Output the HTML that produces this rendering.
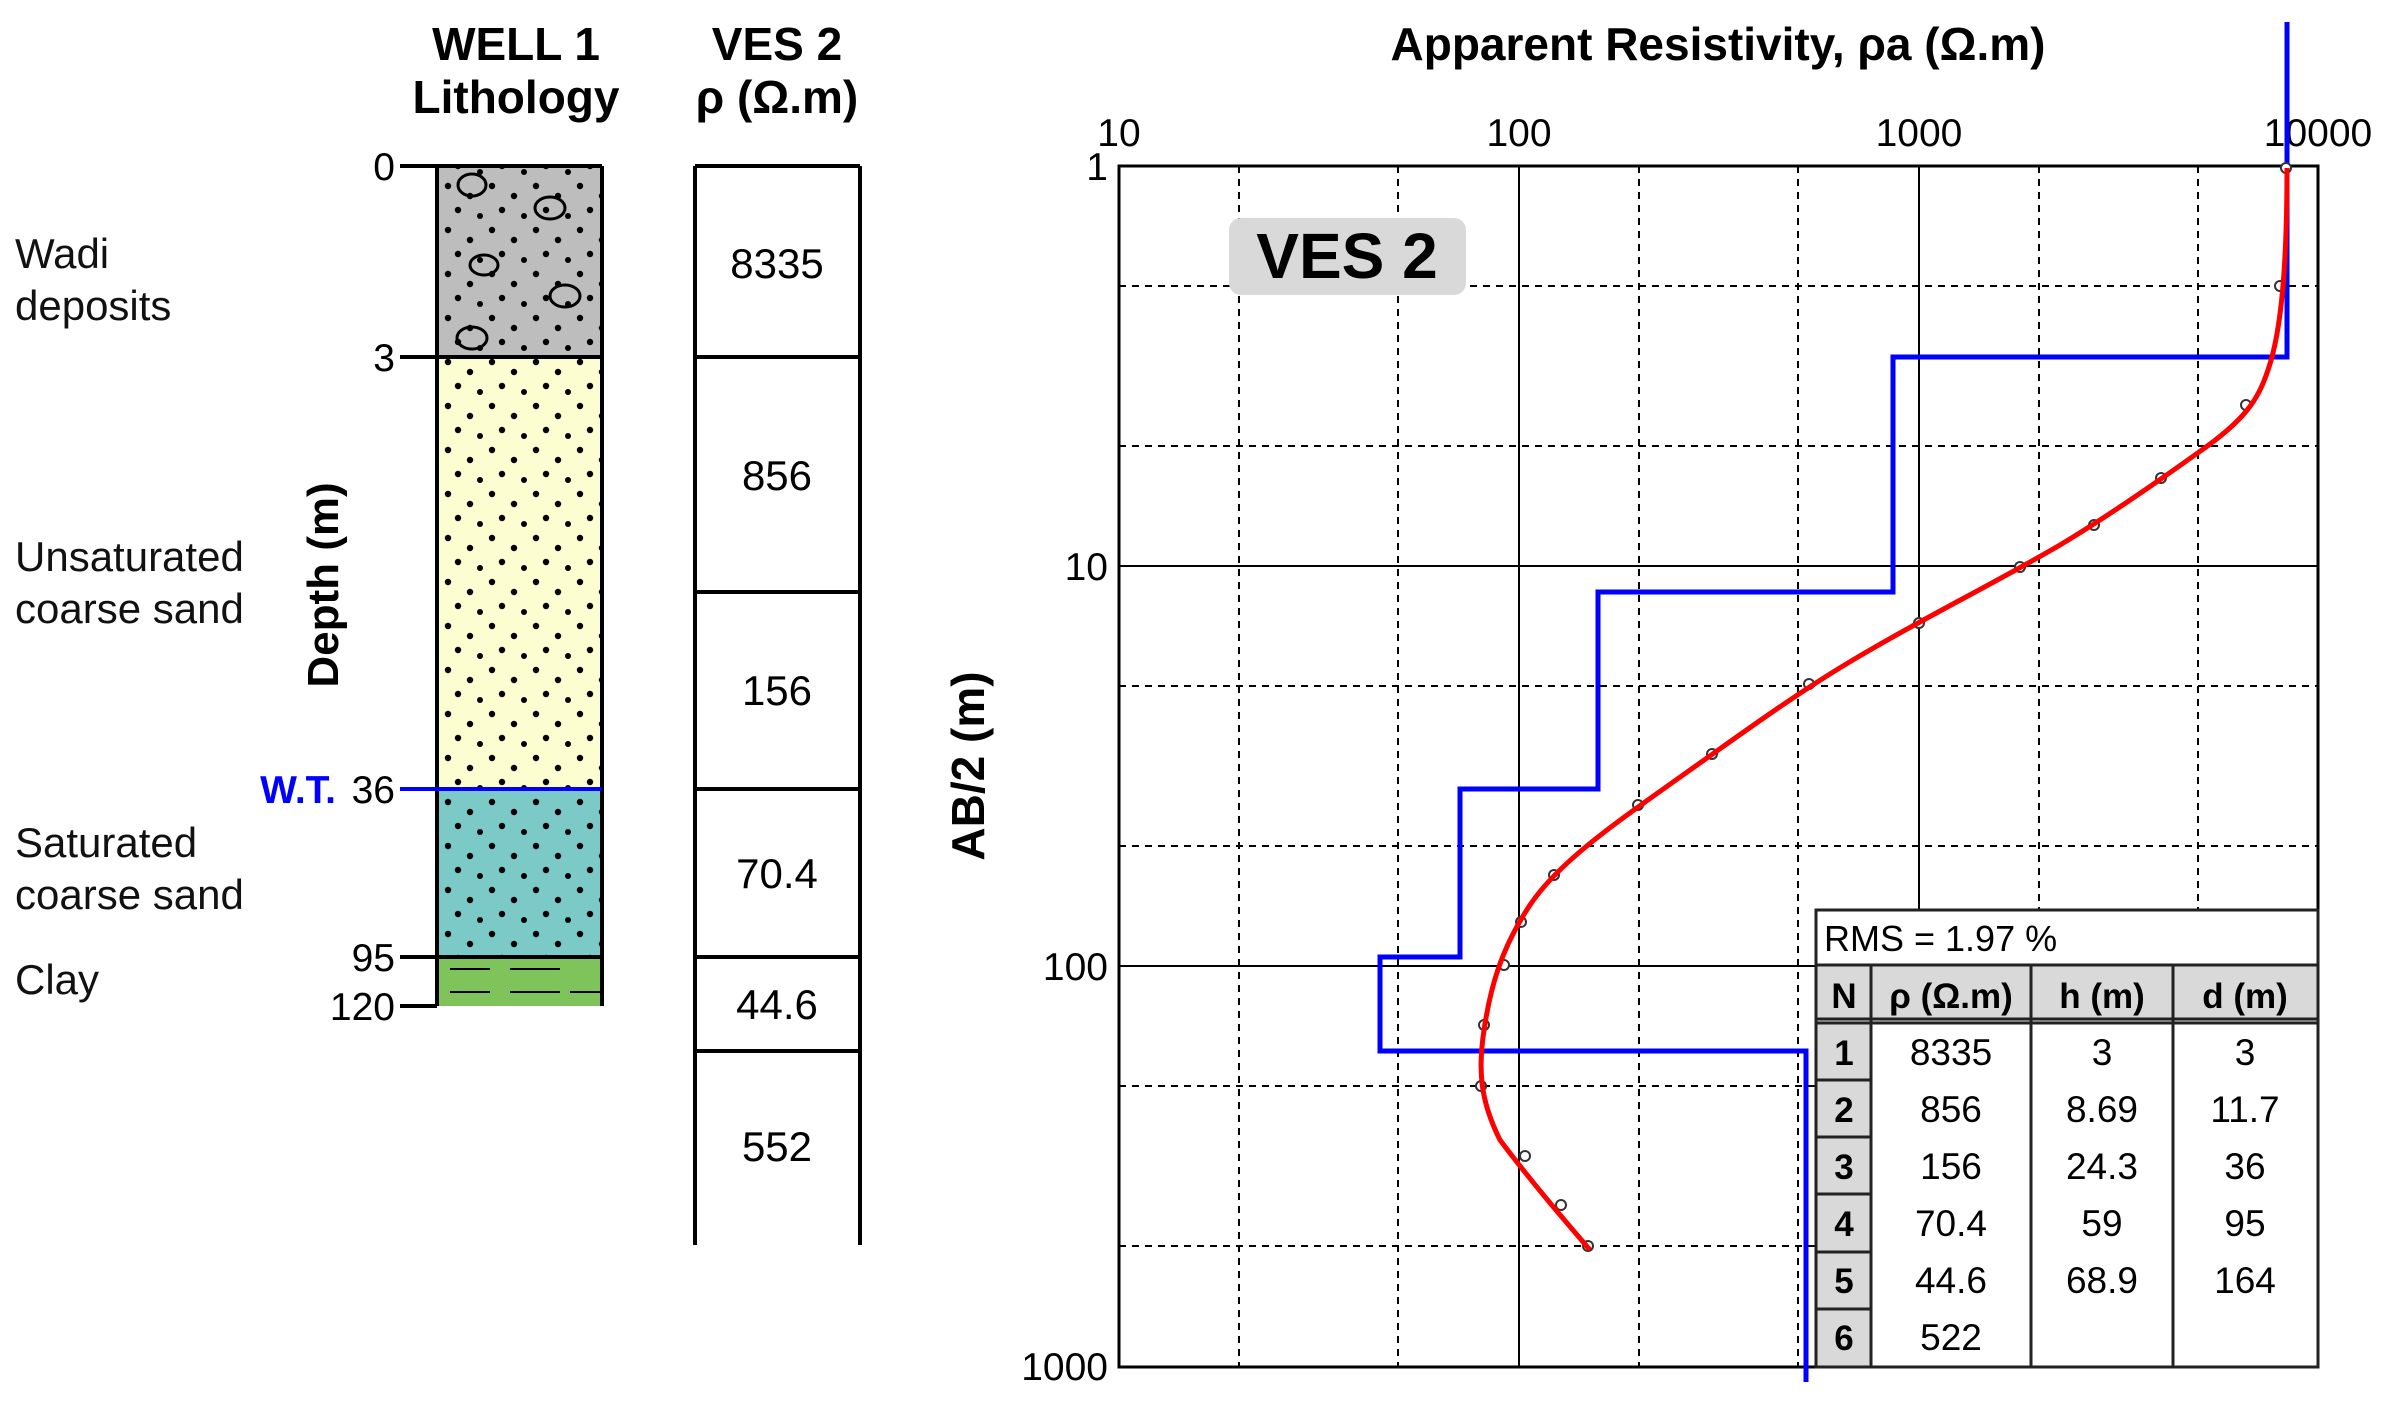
<!DOCTYPE html>
<html><head><meta charset="utf-8"><style>
html,body{margin:0;padding:0;background:#fff;}
svg{display:block;}
text{font-family:"Liberation Sans",sans-serif;}
</style></head><body>
<svg width="2394" height="1404" viewBox="0 0 2394 1404" xmlns="http://www.w3.org/2000/svg">
<defs>
<pattern id="dots" width="44" height="44" patternUnits="userSpaceOnUse">
<circle cx="8" cy="10" r="3.2" fill="#000"/><circle cx="30" cy="20" r="3.2" fill="#000"/><circle cx="18" cy="34" r="3.2" fill="#000"/><circle cx="40" cy="40" r="3" fill="#000"/>
</pattern>
</defs>
<text x="516" y="60" font-size="46" font-weight="bold" text-anchor="middle">WELL 1</text>
<text x="516" y="113" font-size="46" font-weight="bold" text-anchor="middle">Lithology</text>
<text x="777" y="60" font-size="46" font-weight="bold" text-anchor="middle">VES 2</text>
<text x="777" y="113" font-size="46" font-weight="bold" text-anchor="middle">ρ (Ω.m)</text>
<g font-size="42" fill="#111">
<text x="15" y="268">Wadi</text><text x="15" y="320">deposits</text>
<text x="15" y="571">Unsaturated</text><text x="15" y="623">coarse sand</text>
<text x="15" y="857">Saturated</text><text x="15" y="909">coarse sand</text>
<text x="15" y="994">Clay</text>
</g>
<text transform="translate(338,585) rotate(-90)" font-size="44" font-weight="bold" text-anchor="middle">Depth (m)</text>
<rect x="437" y="166" width="165" height="191" fill="#bdbdbd"/>
<rect x="437" y="166" width="165" height="191" fill="url(#dots)"/>
<g fill="none" stroke="#000" stroke-width="3">
<ellipse cx="472" cy="185" rx="14" ry="11"/><ellipse cx="550" cy="208" rx="15" ry="11"/>
<ellipse cx="484" cy="265" rx="14" ry="10"/><ellipse cx="565" cy="296" rx="15" ry="11"/><ellipse cx="472" cy="338" rx="15" ry="11"/>
</g>
<rect x="437" y="357" width="165" height="432" fill="#fdfdd2"/>
<rect x="437" y="357" width="165" height="432" fill="url(#dots)"/>
<rect x="437" y="789" width="165" height="168" fill="#7ccac8"/>
<rect x="437" y="789" width="165" height="168" fill="url(#dots)"/>
<rect x="437" y="957" width="165" height="49" fill="#7ec45a"/>
<g stroke="#000" stroke-width="2"><line x1="450" y1="969" x2="490" y2="969"/><line x1="510" y1="969" x2="560" y2="969"/><line x1="450" y1="992" x2="490" y2="992"/><line x1="510" y1="992" x2="560" y2="992"/><line x1="570" y1="992" x2="600" y2="992"/></g>
<g stroke="#000" stroke-width="4" fill="none">
<line x1="437" y1="166" x2="437" y2="1006"/><line x1="602" y1="166" x2="602" y2="1006"/>
<line x1="400" y1="166" x2="602" y2="166"/><line x1="400" y1="357" x2="602" y2="357"/>
<line x1="400" y1="957" x2="602" y2="957"/><line x1="400" y1="1006" x2="437" y2="1006"/>
<line x1="400" y1="789" x2="437" y2="789"/>
</g>
<line x1="400" y1="789" x2="602" y2="789" stroke="#0000ff" stroke-width="4"/>
<g font-size="39" text-anchor="end">
<text x="395" y="180">0</text><text x="395" y="371">3</text><text x="395" y="803">36</text>
<text x="395" y="971">95</text><text x="395" y="1020">120</text>
</g>
<text x="336" y="803" font-size="39" font-weight="bold" fill="#0000ff" text-anchor="end">W.T.</text>
<g stroke="#000" stroke-width="4" fill="none">
<line x1="695" y1="166" x2="695" y2="1245"/><line x1="860" y1="166" x2="860" y2="1245"/>
<line x1="695" y1="166" x2="860" y2="166"/><line x1="695" y1="357" x2="860" y2="357"/>
<line x1="695" y1="592" x2="860" y2="592"/><line x1="695" y1="789" x2="860" y2="789"/>
<line x1="695" y1="957" x2="860" y2="957"/><line x1="695" y1="1051" x2="860" y2="1051"/>
</g>
<g font-size="42" text-anchor="middle">
<text x="777" y="278">8335</text><text x="777" y="490">856</text><text x="777" y="705">156</text>
<text x="777" y="888">70.4</text><text x="777" y="1019">44.6</text><text x="777" y="1161">552</text>
</g>
<text x="1718" y="60" font-size="46" font-weight="bold" text-anchor="middle">Apparent Resistivity, ρa (Ω.m)</text>
<text transform="translate(984,766) rotate(-90)" font-size="46" font-weight="bold" text-anchor="middle">AB/2 (m)</text>
<g font-size="39" text-anchor="middle">
<text x="1119" y="146">10</text><text x="1519" y="146">100</text><text x="1919" y="146">1000</text><text x="2318" y="146">10000</text>
</g>
<g font-size="39" text-anchor="end">
<text x="1108" y="180">1</text><text x="1108" y="580">10</text><text x="1108" y="980">100</text><text x="1108" y="1380">1000</text>
</g>
<g stroke="#000" stroke-width="2" stroke-dasharray="7,6">
<line x1="1239" y1="166" x2="1239" y2="1367"/><line x1="1398" y1="166" x2="1398" y2="1367"/>
<line x1="1639" y1="166" x2="1639" y2="1367"/><line x1="1798" y1="166" x2="1798" y2="1367"/>
<line x1="2039" y1="166" x2="2039" y2="1367"/><line x1="2198" y1="166" x2="2198" y2="1367"/>
<line x1="1119" y1="286" x2="2318" y2="286"/><line x1="1119" y1="446" x2="2318" y2="446"/>
<line x1="1119" y1="686" x2="2318" y2="686"/><line x1="1119" y1="846" x2="2318" y2="846"/>
<line x1="1119" y1="1086" x2="2318" y2="1086"/><line x1="1119" y1="1246" x2="2318" y2="1246"/>
</g>
<g stroke="#000" stroke-width="2">
<line x1="1519" y1="166" x2="1519" y2="1367"/><line x1="1919" y1="166" x2="1919" y2="1367"/>
<line x1="1119" y1="566" x2="2318" y2="566"/><line x1="1119" y1="966" x2="2318" y2="966"/>
</g>
<rect x="1119" y="166" width="1199" height="1201" fill="none" stroke="#000" stroke-width="3"/>
<rect x="1229" y="218" width="237" height="77" rx="12" fill="#d9d9d9"/>
<text x="1347" y="278" font-size="64" font-weight="bold" text-anchor="middle">VES 2</text>
<!-- table -->
<rect x="1816" y="910" width="502" height="457" fill="#fff"/>
<rect x="1816" y="965" width="502" height="58" fill="#d9d9d9"/>
<rect x="1816" y="1023" width="55" height="344" fill="#d9d9d9"/>
<rect x="1816" y="910" width="502" height="457" fill="none" stroke="#222" stroke-width="3"/>
<g stroke="#222" stroke-width="3">
<line x1="1816" y1="965" x2="2318" y2="965"/><line x1="1816" y1="1023" x2="2318" y2="1023"/><line x1="1816" y1="1019" x2="2318" y2="1019"/>
<line x1="1871" y1="965" x2="1871" y2="1367"/><line x1="2031" y1="965" x2="2031" y2="1367"/><line x1="2173" y1="965" x2="2173" y2="1367"/>
<line x1="1816" y1="1080" x2="1871" y2="1080"/><line x1="1816" y1="1137" x2="1871" y2="1137"/><line x1="1816" y1="1194" x2="1871" y2="1194"/><line x1="1816" y1="1252" x2="1871" y2="1252"/><line x1="1816" y1="1309" x2="1871" y2="1309"/>
</g>
<text x="1824" y="951" font-size="36">RMS = 1.97 %</text>
<g font-size="35" font-weight="bold" text-anchor="middle">
<text x="1844" y="1008">N</text><text x="1951" y="1008">ρ (Ω.m)</text><text x="2102" y="1008">h (m)</text><text x="2245" y="1008">d (m)</text>
<text x="1844" y="1065">1</text><text x="1844" y="1122">2</text><text x="1844" y="1179">3</text><text x="1844" y="1236">4</text><text x="1844" y="1293">5</text><text x="1844" y="1350">6</text>
</g>
<g font-size="37" text-anchor="middle">
<text x="1951" y="1065">8335</text><text x="2102" y="1065">3</text><text x="2245" y="1065">3</text>
<text x="1951" y="1122">856</text><text x="2102" y="1122">8.69</text><text x="2245" y="1122">11.7</text>
<text x="1951" y="1179">156</text><text x="2102" y="1179">24.3</text><text x="2245" y="1179">36</text>
<text x="1951" y="1236">70.4</text><text x="2102" y="1236">59</text><text x="2245" y="1236">95</text>
<text x="1951" y="1293">44.6</text><text x="2102" y="1293">68.9</text><text x="2245" y="1293">164</text>
<text x="1951" y="1350">522</text>
</g>
<polyline fill="none" stroke="#0000ff" stroke-width="5" points="2287,22 2287,357 1893,357 1893,592 1598,592 1598,789 1460,789 1460,957 1380,957 1380,1051 1806,1051 1806,1382"/>
<g fill="#fff" stroke="#333" stroke-width="2">
<circle cx="2286" cy="168" r="5"/><circle cx="2280" cy="286" r="5"/><circle cx="2246" cy="405" r="5"/><circle cx="2161" cy="478" r="5"/><circle cx="2094" cy="525" r="5"/><circle cx="2020" cy="567" r="5"/><circle cx="1919" cy="623" r="5"/><circle cx="1809" cy="684" r="5"/><circle cx="1712" cy="754" r="5"/><circle cx="1638" cy="805" r="5"/><circle cx="1554" cy="875" r="5"/><circle cx="1521" cy="922" r="5"/><circle cx="1504" cy="965" r="5"/><circle cx="1484" cy="1025" r="5"/><circle cx="1481" cy="1086" r="5"/><circle cx="1525" cy="1156" r="5"/><circle cx="1561" cy="1205" r="5"/><circle cx="1588" cy="1246" r="5"/>
</g>
<path fill="none" stroke="#ff0000" stroke-width="5" stroke-linejoin="round" d="M2287,168 C2287,260 2282,330 2268,370 C2258,400 2245,420 2199,452 C2160,480 2110,515 2060,545 C2000,580 1930,615 1870,650 C1800,690 1740,735 1690,770 C1620,820 1560,860 1530,905 C1500,950 1490,990 1484,1030 C1478,1070 1480,1100 1500,1140 C1530,1180 1560,1215 1590,1250"/>
</svg>
</body></html>
